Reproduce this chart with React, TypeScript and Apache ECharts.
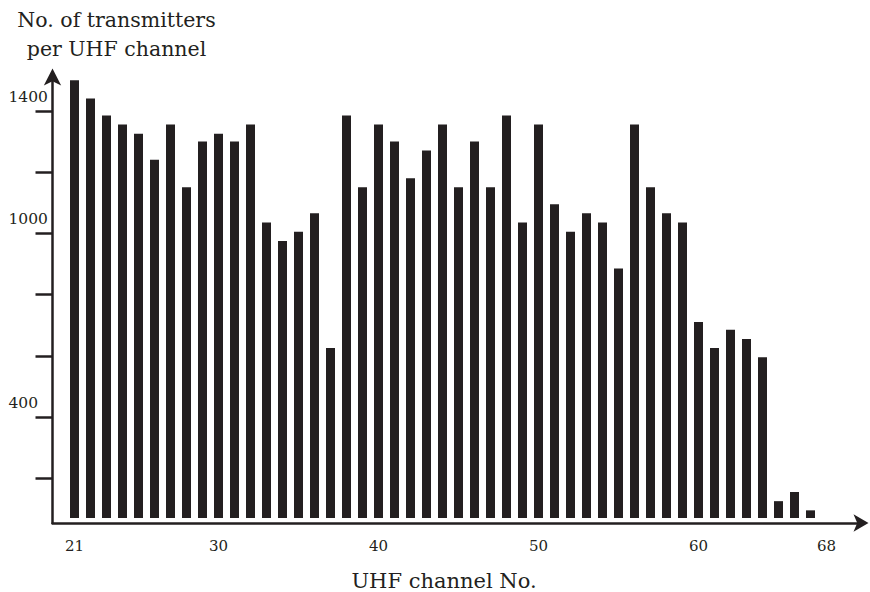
import { useEffect, useRef } from 'react';
import * as echarts from 'echarts';

// UHF channel numbers (one bar each)
const channels = [
  21, 22, 23, 24, 25, 26, 27, 28, 29, 30,
  31, 32, 33, 34, 35, 36, 37, 38, 39, 40,
  41, 42, 43, 44, 45, 46, 47, 48, 49, 50,
  51, 52, 53, 54, 55, 56, 57, 58, 59, 60,
  61, 62, 63, 64, 65, 66, 67, 68,
];

// Number of transmitters per channel
const transmitters = [
  1500, 1440, 1385, 1355, 1325, 1240, 1355, 1150, 1300, 1325,
  1300, 1355, 1035, 975, 1005, 1065, 625, 1385, 1150, 1355,
  1300, 1180, 1270, 1355, 1150, 1300, 1150, 1385, 1035, 1355,
  1095, 1005, 1065, 1035, 885, 1355, 1150, 1065, 1035, 710,
  625, 685, 655, 595, 125, 155, 95, 0,
];

const xTickLabels = [21, 30, 40, 50, 60, 68];
const yTickValues = [200, 400, 600, 800, 1000, 1200, 1400];
const yTickLabels = [400, 1000, 1400];

const yAxisTitle = 'No. of transmitters\nper UHF channel';
const xAxisTitle = 'UHF channel No.';

const INK = '#231f20';
const FONT = '"DejaVu Serif", "Liberation Serif", serif';
const X_MIN = 19.625;
const X_MAX = 70.1875;
const Y_MAX = 1512;

export default function App() {
  const ref = useRef<HTMLDivElement>(null);

  useEffect(() => {
    if (!ref.current) return;
    const chart = echarts.init(ref.current, undefined, { renderer: 'svg' });
    const option: any = {
      animation: false,
      backgroundColor: '#ffffff',
      grid: [
        { left: 52.5, right: 8.5, top: 76.5, bottom: 74 },
        { left: 52.5, right: 8.5, top: 76.5, bottom: 69 },
      ],
      xAxis: [
        { gridIndex: 0, type: 'value', min: X_MIN, max: X_MAX, show: false, splitLine: { show: false } },
        {
          gridIndex: 1,
          type: 'value',
          min: X_MIN,
          max: X_MAX,
          axisLine: {
            show: true,
            onZero: false,
            symbol: ['none', 'arrow'],
            symbolSize: [13, 15],
            symbolOffset: [0, 7],
            lineStyle: { color: INK, width: 2.5 },
          },
          axisTick: { show: false },
          splitLine: { show: false },
          axisLabel: {
            customValues: xTickLabels,
            formatter: (v: number) => String(v),
            color: INK,
            fontFamily: FONT,
            fontSize: 15,
            margin: 15,
          },
        },
      ],
      yAxis: [
        { gridIndex: 0, type: 'value', min: 70, max: Y_MAX, show: false, splitLine: { show: false } },
        {
          gridIndex: 1,
          type: 'value',
          min: 54,
          max: Y_MAX,
          axisLine: {
            show: true,
            onZero: false,
            symbol: ['none', 'arrow'],
            symbolSize: [13, 17],
            symbolOffset: [0, 8],
            lineStyle: { color: INK, width: 2.5 },
          },
          axisTick: {
            show: true,
            inside: false,
            length: 17,
            customValues: yTickValues,
            lineStyle: { color: INK, width: 2.5 },
          },
          splitLine: { show: false },
          axisLabel: {
            customValues: yTickLabels,
            formatter: (v: number) => String(v),
            color: INK,
            fontFamily: FONT,
            fontSize: 15.5,
            align: 'left',
            verticalAlign: 'bottom',
            padding: [0, 0, 6, 0],
            margin: 44,
          },
        },
      ],
      series: [
        {
          type: 'bar',
          xAxisIndex: 0,
          yAxisIndex: 0,
          barWidth: 9,
          clip: true,
          itemStyle: { color: INK },
          data: channels.map((c, i) => [c, transmitters[i]]),
        },
      ],
      graphic: [
        {
          type: 'text',
          x: 116.5,
          y: 34,
          style: {
            text: yAxisTitle,
            fill: INK,
            fontFamily: FONT,
            fontSize: 20.5,
            lineHeight: 29,
            align: 'center',
            verticalAlign: 'middle',
            textAlign: 'center',
            textVerticalAlign: 'middle',
          },
        },
        {
          type: 'text',
          x: 444,
          y: 581,
          style: {
            text: xAxisTitle,
            fill: INK,
            fontFamily: FONT,
            fontSize: 21,
            align: 'center',
            verticalAlign: 'middle',
            textAlign: 'center',
            textVerticalAlign: 'middle',
          },
        },
      ],
    };
    chart.setOption(option);
    return () => {
      chart.dispose();
    };
  }, []);

  return (
    <div
      ref={ref}
      style={{ position: 'fixed', left: 0, top: 0, width: 870, height: 592, background: '#fff' }}
    />
  );
}
